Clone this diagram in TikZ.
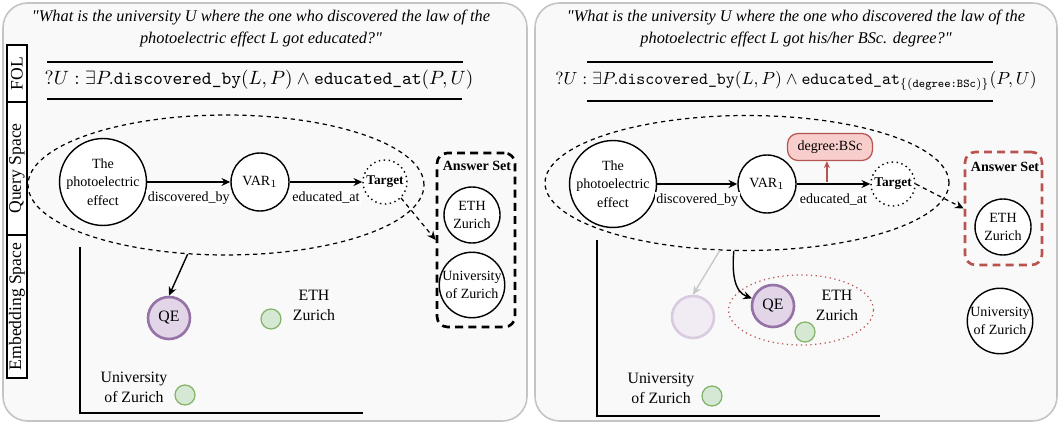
\documentclass[tikz,border=0pt]{standalone}
\usepackage{fontspec}
\setmainfont{Liberation Serif}
\usepackage{amsmath}
\usetikzlibrary{arrows.meta,shapes.geometric}

\definecolor{panelfill}{HTML}{F9F9F9}
\definecolor{panelline}{HTML}{C4C4C4}
\definecolor{qefill}{HTML}{E1D5E7}
\definecolor{qeline}{HTML}{9673A6}
\definecolor{ghostfill}{HTML}{F1EBF4}
\definecolor{ghostline}{HTML}{D9CCE0}
\definecolor{entfill}{HTML}{D5E8D4}
\definecolor{entline}{HTML}{82B366}
\definecolor{degfill}{HTML}{F8CECC}
\definecolor{degline}{HTML}{B85450}
\definecolor{fadearrow}{HTML}{C8C8C8}

\tikzset{
	panel/.style={draw=panelline, fill=panelfill, line width=0.9pt, rounded corners=14pt},
	tabbox/.style={draw, fill=white, rotate=90, minimum height=0.4cm, inner sep=0pt, line width=0.8pt, font=\fontsize{10}{12}\selectfont},
	question/.style={align=center, font=\fontsize{9.3}{13}\selectfont\itshape},
	folformula/.style={font=\fontsize{10.6}{13}\selectfont},
	qspace/.style={ellipse, draw, dash pattern=on 2.4pt off 2.2pt, line width=0.7pt, inner sep=0pt},
	qnode/.style={circle, draw, fill=white, line width=0.8pt, align=center, inner sep=0pt, font=\fontsize{8}{10.5}\selectfont},
	elabel/.style={below=4pt, fill=white, inner sep=1pt, font=\fontsize{8}{10}\selectfont},
	ansset/.style={draw, dash pattern=on 4.5pt off 3pt, line width=1.5pt, rounded corners=6pt, inner sep=0pt},
	anstitle/.style={font=\fontsize{8}{10}\selectfont\bfseries},
	arrow/.style={-{Stealth[length=5pt,width=4.5pt]}, line width=0.8pt},
	dasharrow/.style={-{Stealth[length=5pt,width=4.5pt]}, line width=0.7pt, dash pattern=on 2.4pt off 2.2pt},
	qe/.style={circle, draw=qeline, fill=qefill, line width=1.5pt, minimum size=0.84cm, inner sep=0pt, font=\fontsize{9}{11}\selectfont},
	entity/.style={circle, draw=entline, fill=entfill, line width=0.7pt, minimum size=0.4cm, inner sep=0pt},
	entlabel/.style={align=center, inner sep=1pt, font=\fontsize{9}{11.3}\selectfont},
	axis/.style={line width=0.8pt}
}

\begin{document}
\begin{tikzpicture}[x=0.02cm, y=-0.02cm]
	\useasboundingbox (0,0) rectangle (1060,425);
	% Panels and side tabs:
	\draw[panel] (3,3) rectangle (527,421);
	\draw[panel] (535,3) rectangle (1057,421);
	\node[tabbox, minimum width=1.14cm] (tabFOL) at (17,73.5) {FOL};
	\node[tabbox, minimum width=2.66cm] (tabQuery) at (17,168.5) {Query Space};
	\node[tabbox, minimum width=2.86cm] (tabEmb) at (17,306.5) {Embedding Space};

	% Left: questions and FOL
	\node[question] (questionL) at (261,28.5) {\textquotedbl What is the university U where the one who discovered the law of the\\photoelectric effect L got educated?\textquotedbl};
	\draw[line width=0.6pt] (47,62) -- (463,62);
	\node[folformula] (folL) at (259,80) {$?U:\exists P.\texttt{discovered\_by}(L,P)\land\texttt{educated\_at}(P,U)$};
	\draw[line width=0.6pt] (47,99) -- (462,99);

	% Left: query space
	\node[qspace, minimum width=7.92cm, minimum height=2.8cm] (qspaceL) at (226,185) {};
	\node[qnode, minimum size=1.52cm] (photoL) at (103,182) {The\\photoelectric\\effect};
	\node[qnode, minimum size=1.16cm] (varL) at (260,182) {VAR$_1$};
	\node[qnode, dotted, minimum size=0.88cm, font=\fontsize{7.6}{9}\selectfont\bfseries] (targetL) at (385,182) {Target};
	\draw[arrow] (photoL) -- node[elabel]{discovered\_by} (varL);
	\draw[arrow] (varL) -- node[elabel]{educated\_at} (targetL);

	\node[ansset, minimum width=1.56cm, minimum height=3.48cm] (ansL) at (476,240) {};
	\node[anstitle] (ansTitleL) at (477,166) {Answer Set};
	\node[qnode, minimum size=1.12cm] (ansEthL) at (472,215) {ETH\\Zurich};
	\node[qnode, minimum size=1.28cm] (ansUniL) at (472,285) {University\\of Zurich};
	\draw[dasharrow] (targetL.-45) -- (ansL.west);

	% Left: embedding space
	\draw[axis] (80,247) |- (363,413);
	\node[qe] (qeL) at (169,318) {QE};
	\draw[arrow] (qspaceL.-119) -- (qeL.north);
	\node[entity] (ethL) at (271,319) {};
	\node[entlabel] (ethTextL) at (314,305) {ETH\\Zurich};
	\node[entity] (uniL) at (185,395) {};
	\node[entlabel] (uniTextL) at (134,387) {University\\of Zurich};

	% Right: questions and FOL
	\node[question] (questionR) at (796,28.5) {\textquotedbl What is the university U where the one who discovered the law of the\\photoelectric effect L got his/her BSc. degree?\textquotedbl};
	\draw[line width=0.6pt] (587,62) -- (993,62);
	\node[folformula, font=\fontsize{9.7}{12}\selectfont] (folR) at (796,81) {$?U:\exists P.\texttt{discovered\_by}(L,P)\land\texttt{educated\_at}_{\{(\texttt{degree:BSc})\}}(P,U)$};
	\draw[line width=0.6pt] (587,101) -- (993,101);

	% Right: query space
	\node[qspace, minimum width=8.08cm, minimum height=2.7cm] (qspaceR) at (747,183) {};
	\node[qnode, minimum size=1.52cm] (photoR) at (613,184) {The\\photoelectric\\effect};
	\node[qnode, minimum size=1.16cm] (varR) at (767,184) {VAR$_1$};
	\node[qnode, dotted, minimum size=0.88cm, font=\fontsize{7.6}{9}\selectfont\bfseries] (targetR) at (893,184) {Target};
	\node[draw=degline, fill=degfill, line width=0.7pt, rounded corners=6pt, minimum width=1.7cm, minimum height=0.54cm, font=\fontsize{8}{10}\selectfont] (degR) at (830,147) {degree:BSc};
	\draw[arrow] (photoR) -- node[elabel]{discovered\_by} (varR);
	\draw[arrow] (varR) -- node[elabel]{educated\_at} coordinate[pos=0.41] (attachR) (targetR);
	\draw[-{Stealth[length=4pt,width=3.5pt]}, draw=degline, line width=0.7pt] ([yshift=0.04cm]attachR) -- (attachR |- degR.south);

	\node[ansset, draw=degline, minimum width=1.54cm, minimum height=2.26cm] (ansR) at (1003.5,208.5) {};
	\node[anstitle] (ansTitleR) at (1005,167) {Answer Set};
	\node[qnode, minimum size=1.12cm] (ansEthR) at (1003,227) {ETH\\Zurich};
	\draw[dasharrow] (targetR.east) -- (ansR.west);

	% Right: embedding space
	\draw[axis] (597,240) |- (880,416);
	\node[ellipse, draw=degline, dotted, line width=0.7pt, minimum width=2.9cm, minimum height=1.4cm] (closeR) at (801,310) {};
	\node[circle, draw=ghostline, fill=ghostfill, line width=1.5pt, minimum size=0.84cm] (ghostR) at (693,317) {};
	\draw[-{Stealth[length=5pt,width=4.5pt]}, draw=fadearrow, line width=0.8pt] (qspaceR.-112) -- (ghostR.north);
	\node[qe] (qeR) at (773,306) {QE};
	\draw[arrow] (qspaceR.-101) to[out=-95, in=160] (qeR.160);
	\node[entity] (ethR) at (805,332) {};
	\node[entlabel] (ethTextR) at (837,305) {ETH\\Zurich};
	\node[entity] (uniR) at (712,396) {};
	\node[entlabel] (uniTextR) at (661,388) {University\\of Zurich};
	\node[qnode, minimum size=1.24cm] (uniOutR) at (1000,321) {University\\of Zurich};
\end{tikzpicture}
\end{document}
